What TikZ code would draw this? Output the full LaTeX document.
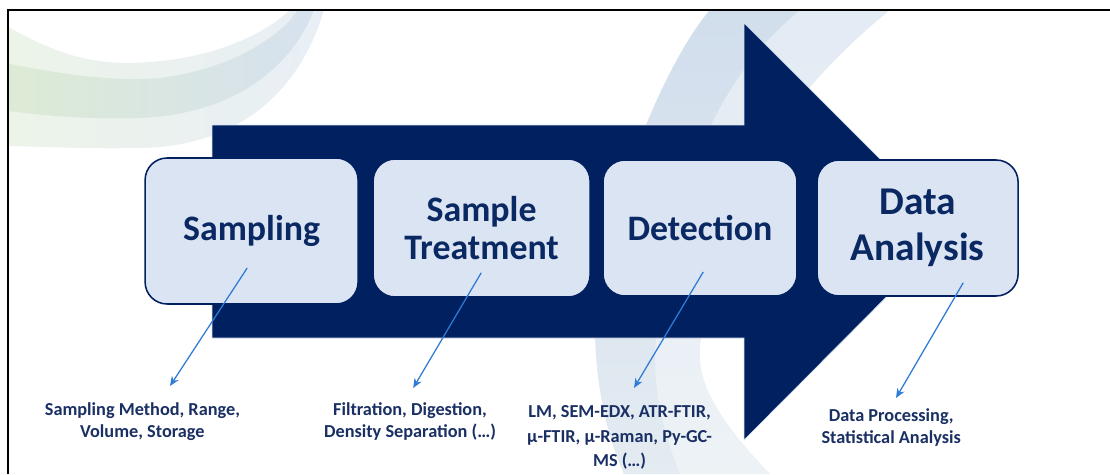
\documentclass[tikz,border=0pt]{standalone}
\usepackage{fontspec}
\setmainfont{Carlito}
\usetikzlibrary{positioning,arrows.meta}

\definecolor{navy}{HTML}{002060}
\definecolor{boxfill}{HTML}{DAE4F3}
\definecolor{boxtext}{HTML}{0A2862}
\definecolor{labeltext}{HTML}{1A2F63}
\definecolor{pointblue}{HTML}{2F7BD5}
\definecolor{swgreen}{HTML}{D6E7CD}
\definecolor{swblue}{HTML}{CCDAEA}
\definecolor{swpale}{HTML}{E8EFF3}

\begin{document}
\begin{tikzpicture}[
        stage/.style={rectangle, rounded corners=0.55cm, draw=navy, line width=1.1pt, fill=boxfill, text=boxtext, align=center, inner sep=0pt, font=\fontsize{25.5}{27}\selectfont\bfseries},
        note/.style={align=center, text=labeltext, inner sep=0pt, font=\fontsize{13}{15.5}\selectfont\bfseries},
        pointer/.style={-{Stealth[length=2.4mm,width=2mm]}, pointblue, line width=0.9pt}
    ]
    \useasboundingbox (0,0) rectangle (27.75,11.85);

    % Background swooshes
    \begin{scope}
        \clip (0.2,0) rectangle (27.75,11.6);
        % top left
        \shade[left color=swgreen!45, right color=swblue!45]
            (0,11.3) .. controls (1.5,10.4) and (2.5,10.2) .. (3.75,10.3)
            .. controls (5.2,10.4) and (6.5,10.9) .. (7.25,11.6) -- (8.1,11.6)
            .. controls (7.6,9.9) and (6.3,8.2) .. (3.5,8.15)
            .. controls (2,8.12) and (0.8,8.2) .. (0,8.2) -- cycle;
        \shade[left color=swgreen!85, right color=swblue!80]
            (0,10.3) .. controls (1.5,10.0) and (2.8,9.8) .. (4,9.9)
            .. controls (5.6,10.1) and (6.9,10.8) .. (7.45,11.6) -- (7.85,11.6)
            .. controls (7.3,10.2) and (5.9,9.0) .. (3.5,8.9)
            .. controls (2,8.85) and (0.8,9.0) .. (0,9.1) -- cycle;
        % right
        \shade[top color=swblue!55, bottom color=swpale!80]
            (17.75,11.6) .. controls (16.8,10.5) and (15.4,7.5) .. (14.93,4.35)
            .. controls (14.75,2.9) and (15.1,1.1) .. (15.6,0) -- (19.25,0)
            .. controls (18.5,0.8) and (17.4,2.0) .. (17.5,3.1)
            .. controls (17.6,5.0) and (18.3,8.4) .. (22.25,11.6) -- cycle;
        \shade[top color=swblue!90, bottom color=swpale!85!swblue]
            (17.75,11.6) .. controls (16.8,10.5) and (15.4,7.5) .. (14.93,4.35)
            .. controls (14.75,2.9) and (15.1,1.1) .. (15.6,0) -- (17,0)
            .. controls (16.5,1.2) and (16.3,2.4) .. (16.4,3.4)
            .. controls (16.6,6.0) and (17.5,9.6) .. (20,11.6) -- cycle;
    \end{scope}

    % Frame
    \draw[line width=1.3pt] (0.2,0) -- (0.2,11.6) -- (27.75,11.6);

    % Big process arrow
    \fill[navy, draw=boxfill, line width=0.4pt] (5.3,8.725) -- (18.6,8.725) -- (18.6,11.275) -- (23.8,6.075)
        -- (18.6,0.85) -- (18.6,3.4) -- (5.3,3.4) -- cycle;

    % Stages
    \node[stage, minimum width=5.325cm, minimum height=3.65cm] (samp) at (6.29,6.075) {Sampling};
    \node[stage, minimum width=5.425cm, minimum height=3.45cm] (treat) at (12.04,6.15) {Sample\\Treatment};
    \node[stage, minimum width=4.85cm, minimum height=3.4cm] (detect) at (17.5,6.15) {Detection};
    \node[stage, minimum width=5.025cm, minimum height=3.4cm, font=\fontsize{28}{32.5}\selectfont\bfseries] (data) at (22.94,6.15) {Data\\Analysis};

    % Details under each stage
    \node[note] (sampnote) at (3.56,1.31) {Sampling Method, Range,\\Volume, Storage};
    \node[note] (treatnote) at (10.25,1.31) {Filtration, Digestion,\\Density Separation (…)};
    \node[note, font=\fontsize{13}{17.4}\selectfont\bfseries] (detectnote) at (15.49,0.91) {LM, SEM-EDX, ATR-FTIR,\\µ-FTIR, µ-Raman, Py-GC-\\MS (…)};
    \node[note] (datanote) at (22.28,1.17) {Data Processing,\\Statistical Analysis};

    % Pointers
    \coordinate (sampfrom) at (6.18,5.15);
    \coordinate (sampto) at (4.25,2.2);
    \coordinate (treatfrom) at (12.03,5.03);
    \coordinate (treatto) at (10.33,2.15);
    \coordinate (detectfrom) at (17.58,5.05);
    \coordinate (detectto) at (15.85,2.15);
    \coordinate (datafrom) at (24.08,4.78);
    \coordinate (datato) at (22.4,1.9);
    \draw[pointer] (sampfrom) -- (sampto);
    \draw[pointer] (treatfrom) -- (treatto);
    \draw[pointer] (detectfrom) -- (detectto);
    \draw[pointer] (datafrom) -- (datato);

\end{tikzpicture}
\end{document}
